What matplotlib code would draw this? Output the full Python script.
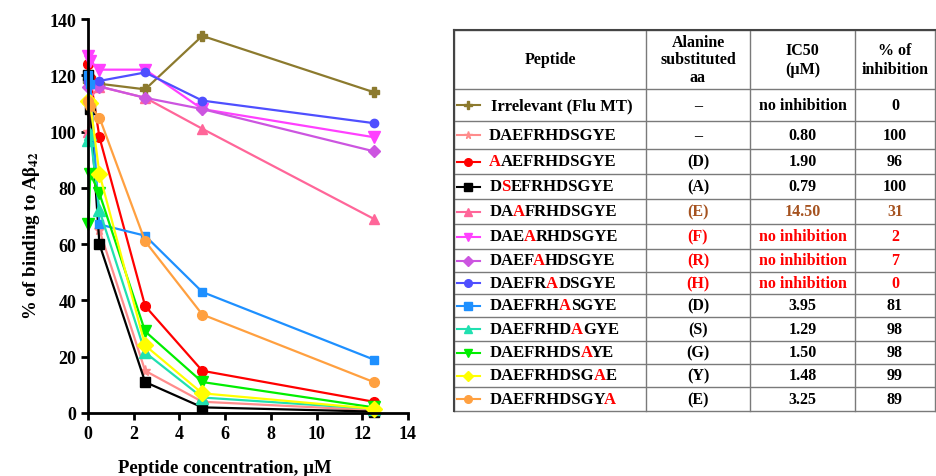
import numpy as np
import matplotlib.pyplot as plt
from matplotlib.lines import Line2D

plt.rcParams['font.family'] = 'Liberation Serif'
plt.rcParams['font.weight'] = 'bold'
plt.rcParams['mathtext.fontset'] = 'stix'

# --- data ---
conc = [0.02, 0.1, 0.5, 2.5, 5, 12.5]  # µM

irrelevant = [118, 119, 117, 115, 134, 114]
wild_type = [100, 107, 65, 15, 4, 1]
sub_d1 = [124, 119, 98, 38, 15, 4]
sub_a2 = [120, 108, 60, 11, 2, 0.5]
sub_e3 = [100, 112, 116, 112, 101, 69]
sub_f4 = [127, 125, 122, 122, 108, 98]
sub_r5 = [116, 117, 116, 112, 108, 93]
sub_h6 = [118, 117, 118, 121, 111, 103]
sub_d7 = [120, 117, 67, 63, 43, 19]
sub_s8 = [97, 99, 72, 21.5, 5.5, 1.5]
sub_g9 = [67, 85, 78, 29, 11, 2]
sub_y10 = [111, 110, 85, 24, 7, 1.5]
sub_e11 = [111, 109, 105, 61, 35, 11]

peptides = ["Irrelevant (Flu MT)", "DAEFRHDSGYE", "AAEFRHDSGYE", "DSEFRHDSGYE",
            "DAAFRHDSGYE", "DAEARHDSGYE", "DAEFAHDSGYE", "DAEFRADSGYE",
            "DAEFRHASGYE", "DAEFRHDAGYE", "DAEFRHDSAYE", "DAEFRHDSGAE", "DAEFRHDSGYA"]
red_pos = [None, None, 0, 1, 2, 3, 4, 5, 6, 7, 8, 9, 10]
substituted = ["–", "–", "(D)", "(A)", "(E)", "(F)", "(R)", "(H)", "(D)", "(S)", "(G)", "(Y)", "(E)"]
ic50 = ["no inhibition", "0.80", "1.90", "0.79", "14.50", "no inhibition", "no inhibition",
        "no inhibition", "3.95", "1.29", "1.50", "1.48", "3.25"]
inhibition = [0, 100, 96, 100, 31, 2, 7, 0, 81, 98, 98, 99, 89]

series = [irrelevant, wild_type, sub_d1, sub_a2, sub_e3, sub_f4, sub_r5,
          sub_h6, sub_d7, sub_s8, sub_g9, sub_y10, sub_e11]
colors = ['#8c7a2e', '#ff8c8c', '#ff0000', '#000000', '#ff6699', '#ff40ff', '#cc55e0',
          '#4f4fff', '#1e90ff', '#20e0b0', '#00ee00', '#ffff00', '#ffa040']
markers = ['P', '*', 'o', 's', '^', 'v', 'D', 'o', 's', '^', 'v', 'D', 'o']
msizes = [7, 8, 7, 7, 7, 8, 6, 6, 6, 8, 9, 8, 7]
text_colors = ['black'] * 4 + ['#a5521f'] + ['#ff0000'] * 3 + ['black'] * 5

fig = plt.figure(figsize=(9.37, 4.77), dpi=100)
renderer = fig.canvas.get_renderer()

# --- left: binding curves ---
ax = fig.add_axes([88 / 937, 63 / 477, 320 / 937, 394 / 477])
for vals, c, m, s in zip(series, colors, markers, msizes):
    ax.plot(conc, vals, color=c, marker=m, ms=s, mec=c, lw=1.6, clip_on=False)

ax.set_xlim(0, 14)
ax.set_ylim(0, 140)
ax.set_xticks(np.arange(0, 15, 2))
ax.set_yticks(np.arange(0, 141, 20))
for side in ['top', 'right']:
    ax.spines[side].set_visible(False)
for side in ['left', 'bottom']:
    ax.spines[side].set_linewidth(2)
ax.tick_params(direction='out', width=2, length=5, labelsize=13)
ax.set_xlabel("Peptide concentration, µM", fontsize=13.5, fontweight='bold')
ax.set_ylabel(r"% of binding to Aβ$_{\mathbf{42}}$", fontsize=13.5, fontweight='bold')
ax.xaxis.set_label_coords((225 - 88) / 320, -(460 - 414) / 394)
ax.yaxis.set_label_coords(-(88 - 42) / 320, (414 - 236) / 394)

# --- right: table (axes in pixel units) ---
tab = fig.add_axes([0, 0, 1, 1])
tab.set_xlim(0, 937)
tab.set_ylim(477, 0)
tab.axis('off')

col_edges = [454, 646, 750, 855, 935]
row_edges = [31, 90, 122, 150, 175, 200, 225, 250, 273, 295, 318, 342, 365, 388, 412]

for y in row_edges:
    tab.plot([col_edges[0], col_edges[-1]], [y, y], color='#7a7a7a', lw=1)
for x in col_edges:
    tab.plot([x, x], [row_edges[0], row_edges[-1]], color='#7a7a7a', lw=1)
tab.plot([col_edges[0], col_edges[0]], [row_edges[0], row_edges[-1]], color='#444444', lw=1.5)
tab.plot([col_edges[0], col_edges[-1]], [row_edges[0], row_edges[0]], color='#444444', lw=1.5)

hy = (row_edges[0] + row_edges[1]) / 2
ccen = [(col_edges[i] + col_edges[i + 1]) / 2 for i in range(4)]
fs = 11.5
tab.text(ccen[0], hy, "Peptide", ha='center', va='center', fontsize=fs)
tab.text(ccen[1], hy, "Alanine\nsubstituted\naa", ha='center', va='center', fontsize=fs, linespacing=1.15)
tab.text(ccen[2], hy, "IC50\n(µM)", ha='center', va='center', fontsize=fs, linespacing=1.3)
tab.text(ccen[3], hy, "% of\ninhibition", ha='center', va='center', fontsize=fs, linespacing=1.3)


def text_width(s, **kw):
    t = tab.text(0, 0, s, **kw)
    w = t.get_window_extent(renderer).width
    t.remove()
    return w


for i, name in enumerate(peptides):
    y = (row_edges[i + 1] + row_edges[i + 2]) / 2
    tab.add_line(Line2D([457, 468.5, 480], [y, y, y], color=colors[i], lw=1.5,
                        marker=markers[i], markevery=[1], ms=5.5))
    x0 = 491 if i == 0 else 489
    kw = dict(va='center', fontsize=12, ha='right')
    k = red_pos[i]
    # every piece is right-aligned at the end position it has in the whole word
    if k is None:
        pieces = [(len(name), 'black', 0)]
    else:
        pieces = [(k, 'black', 1), (k + 1, '#ff0000', 0), (len(name), 'black', 0)]
    start = 0
    for end, c, nudge in pieces:
        if end > start:
            w_end = text_width(name[:end], **kw)
            tab.text(x0 + w_end + nudge, y, name[start:end], color=c, **kw)
        start = end
    tab.text(ccen[1], y, substituted[i], ha='center', va='center', fontsize=fs, color=text_colors[i])
    tab.text(ccen[2], y, ic50[i], ha='center', va='center', fontsize=fs, color=text_colors[i])
    tab.text(ccen[3], y, str(inhibition[i]), ha='center', va='center', fontsize=fs, color=text_colors[i])

fig.savefig("out.png", dpi=100)
